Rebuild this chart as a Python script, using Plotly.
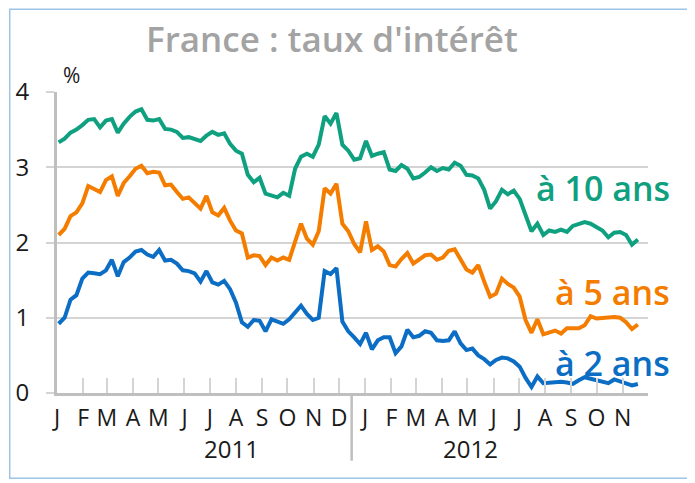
import pandas as pd
import plotly.graph_objects as go

# weekly readings (Mondays) from 3 Jan 2011 to 19 Nov 2012, in %
weeks = pd.date_range("2011-01-03", periods=99, freq="7D")

taux_10 = [3.33, 3.38, 3.46, 3.50, 3.56, 3.63, 3.64, 3.53, 3.62, 3.64,
           3.46, 3.58, 3.67, 3.74, 3.77, 3.63, 3.62, 3.64, 3.51, 3.50,
           3.47, 3.39, 3.40, 3.38, 3.35, 3.42, 3.47, 3.43, 3.45, 3.31,
           3.22, 3.18, 2.90, 2.80, 2.86, 2.65, 2.62, 2.60, 2.66, 2.62,
           2.98, 3.14, 3.18, 3.14, 3.30, 3.68, 3.58, 3.72, 3.30, 3.22,
           3.10, 3.12, 3.35, 3.15, 3.18, 3.20, 2.97, 2.95, 3.03, 2.98,
           2.85, 2.87, 2.93, 3.00, 2.95, 2.99, 2.97, 3.06, 3.02, 2.90,
           2.89, 2.85, 2.70, 2.45, 2.55, 2.70, 2.64, 2.69, 2.58, 2.36,
           2.15, 2.25, 2.10, 2.16, 2.14, 2.17, 2.14, 2.22, 2.24, 2.27,
           2.25, 2.20, 2.16, 2.07, 2.13, 2.14, 2.10, 1.97, 2.04]

taux_5 = [2.10, 2.18, 2.35, 2.40, 2.52, 2.75, 2.71, 2.67, 2.83, 2.88,
          2.62, 2.79, 2.88, 2.98, 3.02, 2.92, 2.94, 2.93, 2.76, 2.77,
          2.67, 2.58, 2.60, 2.52, 2.45, 2.62, 2.40, 2.36, 2.46, 2.29,
          2.16, 2.12, 1.80, 1.83, 1.82, 1.70, 1.80, 1.76, 1.80, 1.77,
          2.02, 2.25, 2.05, 1.97, 2.15, 2.72, 2.65, 2.78, 2.25, 2.15,
          1.98, 1.87, 2.28, 1.90, 1.95, 1.88, 1.70, 1.68, 1.78, 1.86,
          1.72, 1.78, 1.83, 1.84, 1.77, 1.80, 1.89, 1.91, 1.78, 1.64,
          1.60, 1.70, 1.48, 1.28, 1.32, 1.52, 1.45, 1.40, 1.28, 0.97,
          0.80, 0.98, 0.78, 0.80, 0.83, 0.79, 0.86, 0.86, 0.86, 0.90,
          1.02, 0.99, 1.00, 1.01, 1.01, 1.00, 0.94, 0.85, 0.91]

taux_2 = [0.92, 1.00, 1.24, 1.30, 1.52, 1.60, 1.59, 1.58, 1.63, 1.77,
          1.55, 1.74, 1.80, 1.88, 1.90, 1.84, 1.81, 1.90, 1.76, 1.77,
          1.72, 1.63, 1.62, 1.59, 1.48, 1.62, 1.47, 1.44, 1.49, 1.38,
          1.20, 0.94, 0.88, 0.97, 0.96, 0.82, 0.98, 0.95, 0.92, 0.98,
          1.07, 1.16, 1.05, 0.97, 1.00, 1.62, 1.58, 1.66, 0.95, 0.82,
          0.74, 0.65, 0.80, 0.58, 0.70, 0.74, 0.74, 0.53, 0.62, 0.84,
          0.74, 0.76, 0.82, 0.80, 0.70, 0.69, 0.70, 0.82, 0.66, 0.57,
          0.59, 0.50, 0.45, 0.38, 0.44, 0.47, 0.46, 0.42, 0.35, 0.20,
          0.08, 0.22, 0.13, 0.14, 0.15, 0.15, 0.14, 0.12, 0.17, 0.21,
          0.19, 0.17, 0.14, 0.13, 0.18, 0.15, 0.12, 0.10, 0.12]

month_ticks = pd.date_range("2011-01-01", "2012-11-01", freq="MS")
month_letters = list("JFMAMJJASOND") + list("JFMAMJJASON")
years = ["2011", "2012"]

GREEN = "#0fa080"
ORANGE = "#f47d00"
BLUE = "#0b6ec4"
GRID = "#d4d4d4"
AXIS = "#bfbfbf"
FONT = "Open Sans"

fig = go.Figure()
for vals, col in [(taux_10, GREEN), (taux_5, ORANGE), (taux_2, BLUE)]:
    fig.add_trace(go.Scatter(x=weeks, y=vals, mode="lines",
                             line=dict(color=col, width=4),
                             hoverinfo="skip", showlegend=False))

# the page body adds an 8px offset, margins take it into account
fig.update_layout(
    width=695, height=483,
    margin=dict(l=49, r=55, t=84, b=98),
    paper_bgcolor="white", plot_bgcolor="white",
    font=dict(family=FONT, color="#1a1a1a"),
    showlegend=False,
)

fig.update_xaxes(
    type="date", range=["2011-01-01", "2012-12-01"],
    tickvals=month_ticks, ticktext=month_letters,
    tickfont=dict(size=23, family=FONT, color="#1a1a1a"),
    ticks="inside", ticklen=15, tickwidth=1.5, tickcolor=GRID,
    ticklabelstandoff=2,
    showgrid=False, zeroline=False, automargin=False,
    showline=True, linecolor=AXIS, linewidth=3,
)
fig.update_yaxes(
    range=[0, 4], tickvals=[0, 1, 2, 3, 4],
    tickfont=dict(size=24, family=FONT, color="#1a1a1a"),
    ticks="outside", ticklen=8, tickwidth=1.5, tickcolor=GRID,
    ticklabelstandoff=12, automargin=False,
    showgrid=True, gridcolor=GRID, gridwidth=1.5,
    zeroline=False, showline=True, linecolor=AXIS, linewidth=3,
)

# year separator and year labels
fig.add_shape(type="line", xref="x", yref="paper",
              x0="2011-12-16", x1="2011-12-16", y0=0, y1=-0.225,
              line=dict(color=AXIS, width=2.5))
for yr, xp in zip(years, [0.245, 0.750]):
    fig.add_annotation(text=yr, xref="paper", yref="paper", x=xp, y=-0.185,
                       yanchor="middle", showarrow=False,
                       font=dict(size=24, family=FONT))

# frame
fig.add_shape(type="rect", xref="paper", yref="paper",
              x0=-0.08, x1=1.068, y0=-0.283, y1=1.275,
              line=dict(color="#9cc3e8", width=1.5), layer="below")

# title and unit
fig.add_annotation(text="France : taux d'intérêt", xref="paper", yref="paper",
                   x=0.465, y=1.178, yanchor="middle", showarrow=False,
                   font=dict(size=35, family=FONT, color="#a3a3a3", weight=600))
fig.add_annotation(text="%", xref="paper", yref="paper", x=0.006, y=1.058,
                   yanchor="middle", showarrow=False,
                   font=dict(size=21, family=FONT))

# series labels
for txt, col, yp in [("à 10 ans", GREEN, 0.680), ("à 5 ans", ORANGE, 0.334),
                     ("à 2 ans", BLUE, 0.099)]:
    fig.add_annotation(text=txt, xref="paper", yref="paper", x=1.041, y=yp,
                       xanchor="right", yanchor="middle", showarrow=False,
                       font=dict(size=34, family=FONT, color=col, weight=600))

fig.write_html("out.html")
